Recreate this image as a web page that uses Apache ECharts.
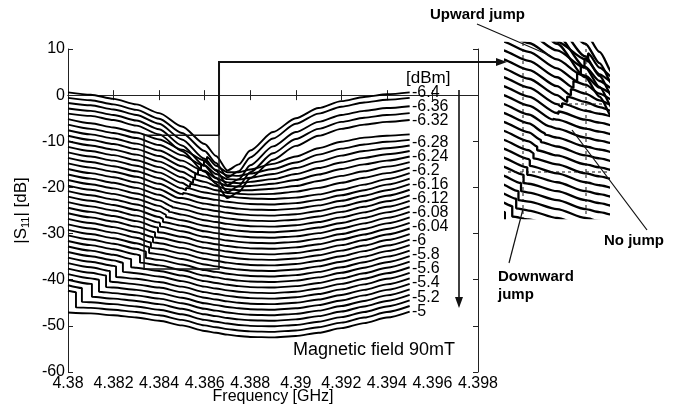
<!DOCTYPE html>
<html>
<head>
<meta charset="utf-8">
<script src="https://cdn.jsdelivr.net/npm/echarts@6/dist/echarts.min.js"></script>
<style>
  html, body { margin: 0; padding: 0; background: #fff; }
  #chart { width: 688px; height: 408px; }
</style>
</head>
<body>
<div id="chart"></div>
<script>
// Frequency sweep points [GHz]
const FREQ = [4.380, 4.381, 4.382, 4.383, 4.384, 4.385, 4.386, 4.3865, 4.387,
              4.3875, 4.388, 4.389, 4.390, 4.391, 4.392, 4.393, 4.394, 4.395];

// |S11| traces [dB], one row per input power, top to bottom (offset for display)
const S11 = [
  [0.6, 0.1, -0.8, -2.0, -3.9, -6.8, -10.6, -13.2, -16.3, -15.0, -12.0, -8.0, -5.0, -2.8, -1.3, -0.4, 0.2, 0.6],
  [-0.6, -1.1, -2.0, -3.2, -5.1, -8.2, -12.1, -14.7, -17.8, -16.5, -13.5, -9.4, -6.2, -4.0, -2.5, -1.6, -1.0, -0.6],
  [-1.7, -2.2, -3.1, -4.3, -6.2, -9.6, -13.8, -16.4, -19.5, -18.2, -15.2, -11.1, -8.0, -5.8, -4.3, -3.4, -2.8, -2.4],
  [-2.9, -3.4, -4.3, -5.5, -7.4, -10.9, -15.3, -17.9, -21.0, -19.7, -16.7, -12.6, -9.5, -7.3, -5.8, -4.9, -4.3, -3.9],
  [-4.0, -4.5, -5.4, -6.6, -8.5, -12.1, -16.6, -19.2, -22.3, -21.0, -18.0, -14.0, -11.0, -8.8, -7.3, -6.4, -5.8, -5.4],
  [-5.2, -6.1, -7.0, -8.1, -9.6, -11.8, -14.2, -15.3, -16.7, -16.7, -16.1, -14.9, -13.3, -11.5, -10.1, -9.2, -8.8, -8.5],
  [-6.4, -7.3, -8.2, -9.3, -10.8, -13.0, -14.1, -16.2, -17.4, -17.5, -17.0, -16.0, -14.6, -12.9, -11.6, -10.7, -10.1, -9.7],
  [-7.6, -8.5, -9.4, -10.5, -12.0, -14.2, -15.2, -17.1, -18.2, -18.3, -17.9, -17.1, -15.8, -14.4, -13.1, -12.1, -11.5, -10.9],
  [-8.8, -9.7, -10.6, -11.7, -13.2, -15.4, -16.4, -18.0, -18.9, -19.1, -18.8, -18.2, -17.1, -15.8, -14.6, -13.6, -12.8, -12.1],
  [-10.0, -10.9, -11.8, -12.9, -14.4, -16.6, -17.6, -18.8, -19.7, -19.8, -19.7, -19.2, -18.4, -17.2, -16.0, -15.0, -14.2, -13.3],
  [-11.2, -12.1, -13.0, -14.1, -15.6, -17.8, -18.8, -19.7, -20.4, -20.6, -20.6, -20.3, -19.7, -18.6, -17.5, -16.5, -15.5, -14.5],
  [-12.4, -13.3, -14.2, -15.3, -16.8, -19.0, -19.9, -20.6, -21.2, -21.4, -21.5, -21.4, -20.9, -20.1, -19.0, -17.9, -16.9, -15.7],
  [-13.6, -14.5, -15.4, -16.5, -18.0, -20.2, -21.1, -21.5, -21.9, -22.2, -22.4, -22.5, -22.2, -21.5, -20.5, -19.4, -18.2, -16.9],
  [-14.8, -15.7, -16.6, -17.7, -19.2, -21.4, -22.3, -22.7, -23.1, -23.4, -23.6, -23.7, -23.4, -22.7, -21.7, -20.6, -19.4, -18.1],
  [-16.0, -16.9, -17.8, -18.9, -20.4, -22.3, -23.5, -23.9, -24.3, -24.6, -24.8, -24.9, -24.6, -23.9, -22.9, -21.8, -20.6, -19.3],
  [-17.2, -18.1, -19.0, -20.1, -21.6, -23.5, -24.7, -25.1, -25.5, -25.8, -26.0, -26.1, -25.8, -25.1, -24.1, -23.0, -21.8, -20.5],
  [-18.4, -19.3, -20.2, -21.3, -22.8, -24.7, -25.9, -26.3, -26.7, -27.0, -27.2, -27.3, -27.0, -26.3, -25.3, -24.2, -23.0, -21.7],
  [-19.6, -20.5, -21.4, -22.5, -24.0, -25.9, -27.1, -27.5, -27.9, -28.2, -28.4, -28.5, -28.2, -27.5, -26.5, -25.4, -24.2, -22.9],
  [-20.8, -21.7, -22.6, -23.7, -25.2, -27.1, -28.3, -28.7, -29.1, -29.4, -29.6, -29.7, -29.4, -28.7, -27.7, -26.6, -25.4, -24.1],
  [-22.0, -22.9, -23.8, -24.9, -26.4, -28.3, -29.5, -29.9, -30.3, -30.6, -30.8, -30.9, -30.6, -29.9, -28.9, -27.8, -26.6, -25.3],
  [-23.2, -24.1, -25.0, -26.1, -27.6, -29.5, -30.7, -31.1, -31.5, -31.8, -32.0, -32.1, -31.8, -31.1, -30.1, -29.0, -27.8, -26.5],
  [-24.4, -25.3, -26.2, -27.3, -29.7, -30.7, -31.9, -32.3, -32.7, -33.0, -33.2, -33.3, -33.0, -32.3, -31.3, -30.2, -29.0, -27.7],
  [-25.6, -26.5, -27.4, -28.5, -30.9, -31.9, -33.1, -33.5, -33.9, -34.2, -34.4, -34.5, -34.2, -33.5, -32.5, -31.4, -30.2, -28.9],
  [-26.8, -27.7, -28.6, -29.7, -32.1, -33.1, -34.3, -34.7, -35.1, -35.4, -35.6, -35.7, -35.4, -34.7, -33.7, -32.6, -31.4, -30.1],
  [-28.0, -28.9, -29.8, -30.9, -33.3, -34.3, -35.5, -35.9, -36.3, -36.6, -36.8, -36.9, -36.6, -35.9, -34.9, -33.8, -32.6, -31.3],
  [-29.2, -30.1, -31.0, -32.1, -34.5, -35.5, -36.7, -37.1, -37.5, -37.8, -38.0, -38.1, -37.8, -37.1, -36.1, -35.0, -33.8, -32.5],
  [-30.4, -31.3, -32.2, -33.3, -35.7, -36.7, -37.9, -38.3, -38.7, -39.0, -39.2, -39.3, -39.0, -38.3, -37.3, -36.2, -35.0, -33.7],
  [-31.6, -32.5, -33.4, -34.5, -36.9, -37.9, -39.1, -39.5, -39.9, -40.2, -40.4, -40.5, -40.2, -39.5, -38.5, -37.4, -36.2, -34.9],
  [-32.8, -33.7, -34.6, -37.4, -38.1, -39.1, -40.3, -40.7, -41.1, -41.4, -41.6, -41.7, -41.4, -40.7, -39.7, -38.6, -37.4, -36.1],
  [-34.0, -34.9, -35.8, -38.6, -39.3, -40.3, -41.5, -41.9, -42.3, -42.6, -42.8, -42.9, -42.6, -41.9, -40.9, -39.8, -38.6, -37.3],
  [-35.2, -36.1, -37.0, -39.8, -40.5, -41.5, -42.7, -43.1, -43.5, -43.8, -44.0, -44.1, -43.8, -43.1, -42.1, -41.0, -39.8, -38.5],
  [-36.4, -37.3, -40.5, -41.0, -41.7, -42.7, -43.9, -44.3, -44.7, -45.0, -45.2, -45.3, -45.0, -44.3, -43.3, -42.2, -41.0, -39.7],
  [-37.6, -38.5, -41.7, -42.2, -42.9, -43.9, -45.1, -45.5, -45.9, -46.2, -46.4, -46.5, -46.2, -45.5, -44.5, -43.4, -42.2, -40.9],
  [-38.8, -39.7, -42.9, -43.4, -44.1, -45.1, -46.3, -46.7, -47.1, -47.4, -47.6, -47.7, -47.4, -46.7, -45.7, -44.6, -43.4, -42.1],
  [-40.0, -40.9, -44.1, -44.6, -45.3, -46.3, -47.5, -47.9, -48.3, -48.6, -48.8, -48.9, -48.6, -47.9, -46.9, -45.8, -44.6, -43.3],
  [-41.2, -44.9, -45.3, -45.8, -46.5, -47.5, -48.7, -49.1, -49.5, -49.8, -50.0, -50.1, -49.8, -49.1, -48.1, -47.0, -45.8, -44.5],
  [-42.4, -46.1, -46.5, -47.0, -47.7, -48.7, -49.9, -50.3, -50.7, -51.0, -51.2, -51.3, -51.0, -50.3, -49.3, -48.2, -47.0, -45.7],
  [-47.1, -47.3, -47.7, -48.2, -48.9, -49.9, -51.1, -51.5, -51.9, -52.2, -52.4, -52.5, -52.2, -51.5, -50.5, -49.4, -48.2, -46.9]
];

// Bistable jump of each trace: frequency [GHz] and level just before / after [dB]
const JUMP_FREQ = [null, null, null, null, null,
  4.38610, 4.38597, 4.38584, 4.38571, 4.38558, 4.38549, 4.38536, 4.38518, 4.38505,
  4.38487, 4.38474, 4.38457, 4.38443, 4.38430, 4.38417, 4.38404, 4.38395, 4.38382,
  4.38373, 4.38364, 4.38356, 4.38342, 4.38316, 4.38277, 4.38241, 4.38211, 4.38184,
  4.38167, 4.38136, 4.38105, 4.38061, 4.38035, null];
const JUMP_FROM = [null, null, null, null, null,
  -14.5, -15.3, -16.2, -17.1, -18.0, -19.0, -19.9, -20.6, -21.5, -22.3, -23.2, -24.1,
  -25.0, -25.9, -26.8, -27.7, -28.7, -29.7, -30.8, -31.9, -32.9, -33.9, -34.7, -35.5,
  -36.3, -37.1, -38.1, -39.1, -40.0, -40.9, -41.8, -42.7, null];
const JUMP_TO = [null, null, null, null, null,
  -13.4, -14.1, -15.1, -16.1, -17.1, -18.2, -19.2, -20.1, -21.2, -22.2, -23.2, -24.3,
  -25.3, -26.4, -27.5, -28.5, -29.7, -30.8, -31.9, -33.1, -34.2, -35.3, -36.3, -37.3,
  -38.3, -39.4, -40.4, -41.6, -42.6, -43.7, -44.8, -46.0, null];

// Input power scale [dBm]
const POWER_LABELS = ['-6.4', '-6.36', '-6.32', '-6.28', '-6.24', '-6.2', '-6.16', '-6.12',
                      '-6.08', '-6.04', '-6', '-5.8', '-5.6', '-5.4', '-5.2', '-5'];

// Marked window on the main plot (frequency [GHz], level [dB])
const BOX_FREQ = [4.38334, 4.38663];
const BOX_DB = [-37.7, -8.67];
// Range shown in the magnified view
const ZOOM_FREQ = [4.3832, 4.3868];
const ZOOM_DB = [-35.5, -12];

const FONT = "'Liberation Sans', Arial, Helvetica, sans-serif";

function tracePoints(k) {
  const pts = [];
  const fj = JUMP_FREQ[k];
  let done = fj === null;
  FREQ.forEach((f, i) => {
    if (!done && f > fj) {
      pts.push([fj, JUMP_FROM[k]], [fj, JUMP_TO[k]]);
      done = true;
    }
    pts.push([f, S11[k][i]]);
  });
  return pts;
}

const series = [];
S11.forEach((row, k) => {
  const data = tracePoints(k);
  series.push({
    type: 'line', xAxisIndex: 0, yAxisIndex: 0, data,
    showSymbol: false, smooth: 0.25, smoothMonotone: 'x', silent: true,
    lineStyle: { color: '#000', width: 1.9 }
  });
  series.push({
    type: 'line', xAxisIndex: 2, yAxisIndex: 2, data, clip: true,
    showSymbol: false, smooth: 0.25, smoothMonotone: 'x', silent: true,
    lineStyle: { color: '#000', width: 2.3 }
  });
});

const axisLine = { show: true, lineStyle: { color: '#222', width: 1 } };
const tick = { show: true, inside: true, length: 5, lineStyle: { color: '#222' } };
const fmtFreq = v => String(+v.toFixed(3));

const option = {
  animation: false,
  backgroundColor: '#fff',
  grid: [
    { left: 68, top: 49, width: 410, height: 323, outerBoundsMode: 'none', containLabel: false },
    { left: 506, top: 43, width: 102, height: 175, outerBoundsMode: 'none', containLabel: false }
  ],
  xAxis: [
    { type: 'value', gridIndex: 0, min: 4.38, max: 4.398, interval: 0.002,
      axisLine, axisTick: tick, splitLine: { show: false },
      axisLabel: { formatter: fmtFreq, color: '#000', fontSize: 16, fontFamily: FONT, margin: 4 } },
    { type: 'value', gridIndex: 0, position: 'top', min: 4.38, max: 4.398, interval: 0.002,
      axisLine, axisTick: tick, axisLabel: { show: false }, splitLine: { show: false } },
    { type: 'value', gridIndex: 1, min: ZOOM_FREQ[0], max: ZOOM_FREQ[1], show: false }
  ],
  yAxis: [
    { type: 'value', gridIndex: 0, min: -60, max: 10, interval: 10,
      axisLine, axisTick: tick, splitLine: { show: false },
      axisLabel: { color: '#000', fontSize: 16, fontFamily: FONT, margin: 3 },
      name: '|S{sub|11}| [dB]', nameLocation: 'middle', nameGap: 36, nameRotate: 90,
      nameTextStyle: { color: '#000', fontSize: 17, fontFamily: FONT, lineHeight: 20,
        rich: { sub: { fontSize: 11, fontFamily: FONT, verticalAlign: 'bottom', lineHeight: 12 } } } },
    { type: 'value', gridIndex: 0, position: 'right', min: -60, max: 10, interval: 10,
      axisLine, axisTick: tick, axisLabel: { show: false }, splitLine: { show: false } },
    { type: 'value', gridIndex: 1, min: ZOOM_DB[0], max: ZOOM_DB[1], show: false }
  ],
  series
};

const chart = echarts.init(document.getElementById('chart'), null, { width: 688, height: 408 });
chart.setOption(option);

// Annotations: marked window, pointers and texts
const toPx = (f, db) => chart.convertToPixel({ xAxisIndex: 0, yAxisIndex: 0 }, [f, db]);
const [bx1, by1] = toPx(BOX_FREQ[0], BOX_DB[1]);
const [bx2, by2] = toPx(BOX_FREQ[1], BOX_DB[0]);

const labelY = [93, 107, 121, 143, 157, 171, 185, 199, 213, 227, 241, 255, 269, 283, 298, 312];
const txt = (text, x, y, size, bold, align) => ({
  type: 'text', x, y, z: 100,
  style: { text, fill: '#000', fontSize: size, fontFamily: FONT,
           fontWeight: bold ? 'bold' : 'normal', verticalAlign: 'middle', align: align || 'left' }
});
const seg = (x1, y1, x2, y2, w, dash) => ({
  type: 'line', z: 100,
  shape: { x1, y1, x2, y2 },
  style: { stroke: '#111', lineWidth: w, lineDash: dash || null }
});

const graphic = [
  { type: 'rect', z: 100, shape: { x: bx1, y: by1, width: bx2 - bx1, height: by2 - by1 },
    style: { fill: null, stroke: '#111', lineWidth: 1.5 } },
  { type: 'polyline', z: 100, shape: { points: [[bx2, by1], [bx2, 62], [498, 62]] },
    style: { fill: null, stroke: '#111', lineWidth: 2 } },
  { type: 'polygon', z: 100, shape: { points: [[507, 62], [496, 58], [496, 66]] },
    style: { fill: '#111' } },
  seg(459, 90, 459, 298, 1.6),
  { type: 'polygon', z: 100, shape: { points: [[459, 308], [455, 297], [463, 297]] },
    style: { fill: '#111' } },
  txt('Frequency [GHz]', 273, 397, 16, false, 'center'),
  txt('[dBm]', 406, 78, 17, false),
  txt('Magnetic field 90mT', 293, 350, 18, false),
  txt('Upward jump', 430, 15, 15, true),
  txt('No jump', 604, 241, 15, true),
  txt('Downward', 498, 277, 15, true),
  txt('jump', 498, 295, 15, true),
  seg(477, 24, 551, 56, 1.2),
  seg(647, 230, 572, 130, 1.2),
  seg(509, 263, 523, 209, 1.2),
  seg(523, 43, 523, 218, 1, [3, 3]),
  seg(586, 43, 586, 218, 1, [3, 3]),
  seg(557, 104, 608, 104, 1, [3, 3]),
  seg(508, 172, 608, 172, 1, [3, 3])
];
POWER_LABELS.forEach((t, i) => graphic.push(txt(t, 412, labelY[i], 16, false)));

chart.setOption({ graphic });
</script>
</body>
</html>
